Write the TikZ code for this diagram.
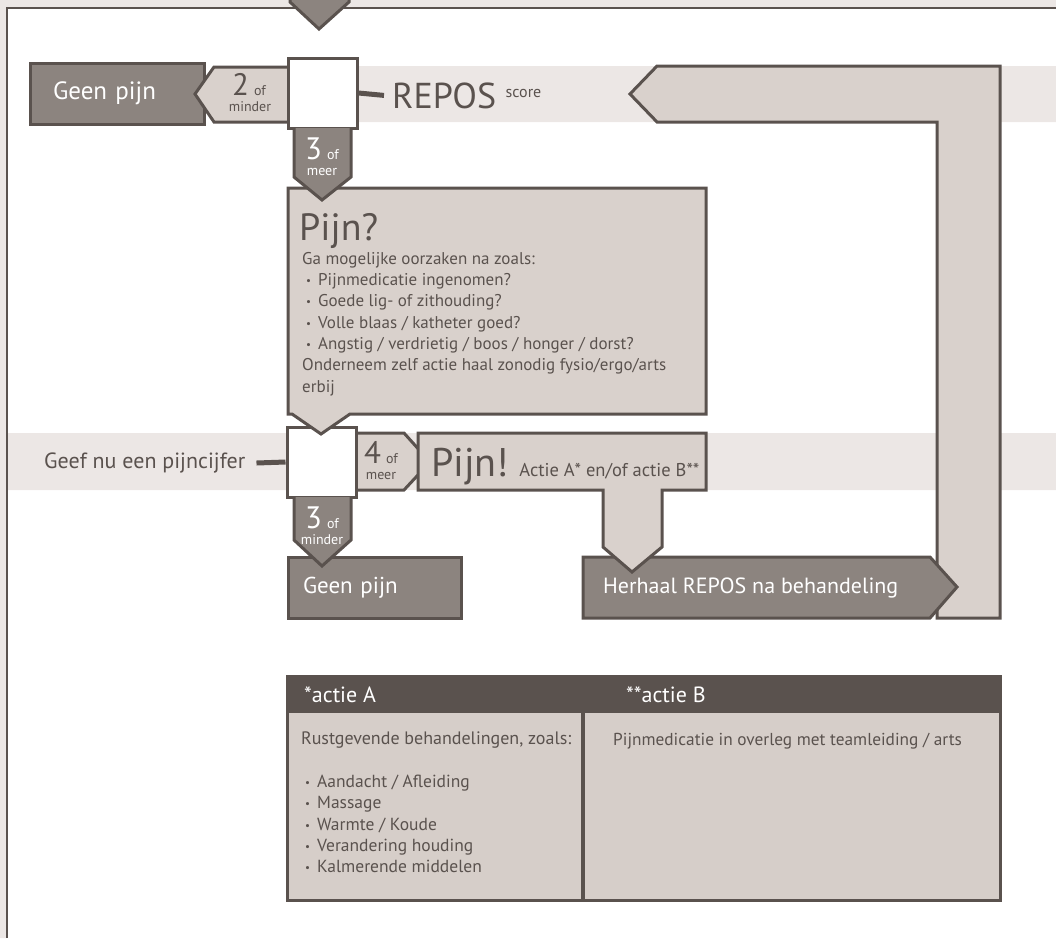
\documentclass[tikz,border=0pt]{standalone}
\usepackage{fontspec}
\setmainfont{PT Sans}
\usepackage{xcolor}
\usetikzlibrary{positioning}
\definecolor{donker}{HTML}{5A524E}
\definecolor{midden}{HTML}{8C847F}
\definecolor{licht}{HTML}{D9D1CC}
\definecolor{band}{HTML}{ECE7E5}
\definecolor{tabel}{HTML}{D6CEC9}
\newcommand{\fsz}[2]{\fontsize{#1}{#2}\selectfont}
\newcommand{\bol}{\hspace*{4pt}\makebox[12pt][l]{\raisebox{1pt}{\fsz{11}{11}•}}}
\begin{document}
\begin{tikzpicture}[x=1pt,y=-1pt,rand/.style={draw=donker,line width=3pt},pijl/.style={rand,fill=midden},lpijl/.style={rand,fill=licht},txt/.style={text=donker,inner sep=0pt},wtxt/.style={text=white,inner sep=0pt},cijfer/.style={anchor=base,font=\fsz{31}{31}},klein/.style={anchor=base,font=\fsz{14}{14}}]
\useasboundingbox (0,0) rectangle (1056,938);
\fill[band] (0,0) rectangle (1056,8) (0,0) rectangle (7,938) (357,66) rectangle (1056,122) (8,433) rectangle (1056,490);
\draw[donker,line width=2pt] (1056,8) -- (7,8) -- (7,938);
\draw[lpijl] (630,94) -- (657,66) -- (1000,66) -- (1000,618) -- (937,618) -- (937,122) -- (657,122) -- cycle;
\node[pijl,minimum width=174pt,minimum height=61pt,text width=128pt,align=left,inner xsep=23pt,text=white,font=\fsz{25}{28}] (geen1) at (117,93.5) {Geen pijn};
\draw[lpijl] (288,67) -- (214,67) -- (195,94) -- (214,122) -- (288,122);
\node[rand,fill=white,minimum width=69pt,minimum height=70pt,inner sep=0pt] (vak1) at (322.5,93) {};
\node[txt,cijfer] (twee) at (249,95) {2\,{\fsz{14}{14}of}};
\node[txt,klein] (minder1) at (250,111) {minder};
\node[txt,anchor=base west,font=\fsz{36}{36}] (repos) at (392,108) {REPOS};
\node[txt,anchor=base west,font=\fsz{16}{16}] (score) at ([xshift=9pt,yshift=11pt]repos.base east) {score};
\draw[donker,line width=5pt] (vak1.east) -- ([xshift=-8pt]repos.west);
\draw[lpijl] (356,433) -- (404,433) -- (430,462) -- (404,490) -- (356,490);
\node[txt,cijfer] (vier) at (381,463) {4\,{\fsz{14}{14}of}};
\node[txt,klein] (meer2) at (381,479) {meer};
\node[rand,fill=white,minimum width=69pt,minimum height=70pt,inner sep=0pt] (vak2) at (321.5,462) {};
\draw[lpijl] (288,188) -- (706,188) -- (706,414) -- (350,414) -- (321,434) -- (292,414) -- (288,414) -- cycle;
\draw[pijl] (294,128) -- (294,177) -- (322,200) -- (351,177) -- (351,128);
\node[wtxt,cijfer] (drie1) at (322,159) {3\,{\fsz{14}{14}of}};
\node[wtxt,klein] (meer1) at (322,175) {meer};
\node[txt,anchor=base west,font=\fsz{38}{38}] (pijnvraag) at (299,240) {Pijn?};
\node[txt,anchor=north west,align=left,font=\fsz{17}{21.3}] (oorzaken) at (302,252) {Ga mogelijke oorzaken na zoals:\\\bol Pijnmedicatie ingenomen?\\\bol Goede lig- of zithouding?\\\bol Volle blaas / katheter goed?\\\bol Angstig / verdrietig / boos / honger / dorst?\\Onderneem zelf actie haal zonodig fysio/ergo/arts\\erbij};
\node[txt,anchor=west,font=\fsz{22}{22}] (geef) at (44,463) {Geef nu een pijncijfer};
\draw[donker,line width=5pt] ([xshift=11pt]geef.east) -- (vak2.west);
\draw[pijl] (583,557) -- (930,557) -- (957,587) -- (930,618) -- (583,618) -- cycle;
\node[wtxt,anchor=west,font=\fsz{22}{22}] (herhaal) at (603,588) {Herhaal REPOS na behandeling};
\draw[lpijl] (418,433) -- (706,433) -- (706,490) -- (662,490) -- (662,547) -- (632,572) -- (603,547) -- (603,490) -- (418,490) -- cycle;
\node[txt,anchor=base west,font=\fsz{40}{40}] (pijnuitr) at (431,476) {Pijn!};
\node[txt,anchor=base west,font=\fsz{18.5}{18.5}] (actie) at ([xshift=10pt]pijnuitr.base east) {Actie A* en/of actie B**};
\node[pijl,minimum width=173pt,minimum height=61pt,text width=143pt,align=left,inner xsep=15pt,text=white,font=\fsz{23}{26}] (geen2) at (374.5,587.5) {Geen pijn};
\draw[pijl] (294,497) -- (294,540) -- (322,566) -- (351,540) -- (351,497);
\node[wtxt,cijfer] (drie2) at (322,528) {3\,{\fsz{14}{14}of}};
\node[wtxt,klein] (minder2) at (322,544) {minder};
\draw[pijl] (290,0) -- (290,2) -- (319,29) -- (349,2) -- (349,0);
\draw[rand,fill=tabel] (287,676) rectangle (1000,900);
\fill[donker] (287,676) rectangle (1000,713);
\draw[donker,line width=4pt] (583,713) -- (583,900);
\node[wtxt,anchor=west,font=\fsz{22}{22}] (kopA) at (304,695) {*actie A};
\node[wtxt,anchor=west,font=\fsz{22}{22}] (kopB) at (626,695) {**actie B};
\node[txt,anchor=north west,align=left,font=\fsz{17.5}{21.3}] (celA) at (301,732) {{\fsz{18}{21.3}Rustgevende behandelingen, zoals:}\\[21.3pt]\bol Aandacht / Afleiding\\\bol Massage\\\bol Warmte / Koude\\\bol Verandering houding\\\bol Kalmerende middelen};
\node[txt,anchor=north west,align=left,font=\fsz{17.3}{21.3}] (celB) at (613,733) {Pijnmedicatie in overleg met teamleiding / arts};
\end{tikzpicture}
\end{document}
